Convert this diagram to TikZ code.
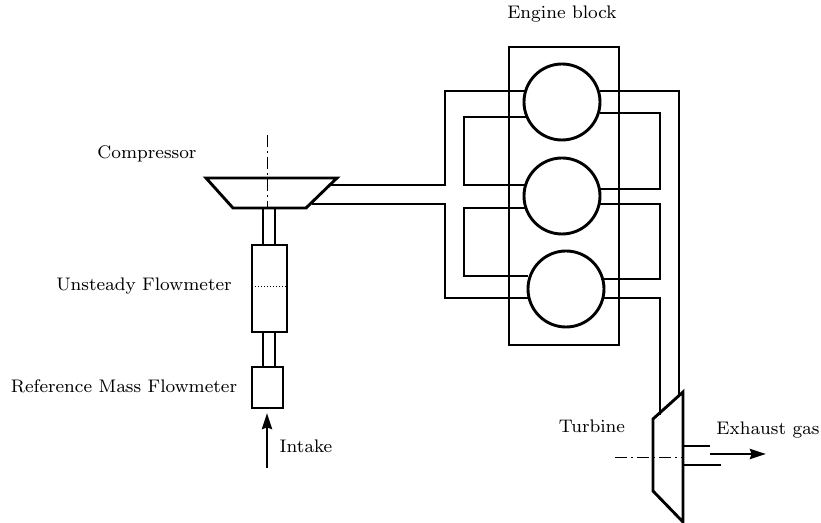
\documentclass[tikz,border=0pt]{standalone}
\usepackage{tikz}
\usetikzlibrary{arrows.meta}
\font\lblfont=cmr8 at 9.1pt
\tikzset{
    pipe/.style={line width=1.45pt, line join=miter},
    axisline/.style={line width=0.45pt, dash pattern=on 6pt off 2pt on 1pt off 2pt},
    lbl/.style={font=\lblfont, inner sep=0pt}
}

\begin{document}
\begin{tikzpicture}[>={Stealth[length=8pt,width=5pt,inset=0.8pt]}, x=0.5pt, y=-0.5pt]
\useasboundingbox (0, 0) rectangle (821, 523);

% === Intake line ===
\draw[axisline] (267, 135) -- (267, 208);
\draw[pipe] (206, 178) -- (337, 178) -- (306, 208) -- (233, 208) -- cycle;
\draw[pipe] (263, 208) -- (263, 245);
\draw[pipe] (275, 208) -- (275, 245);
\draw[pipe] (252, 245) rectangle (287, 332);
\draw[densely dotted, line width=0.5pt] (252, 287) -- (287, 287);
\draw[pipe] (263, 332) -- (263, 367);
\draw[pipe] (275, 332) -- (275, 367);
\draw[pipe] (252, 367) rectangle (283, 408);
\draw[->, pipe] (267, 468) -- (267, 413);

% === Engine block ===
\draw[pipe] (509, 47) rectangle (619, 345);
\draw[pipe] (562, 102) circle (38);
\draw[pipe] (562, 196) circle (38);
\draw[pipe] (566, 289) circle (38);

% Left side pipes
\draw[pipe] (330, 185) -- (445, 185) -- (445, 91) -- (526, 91);
\draw[pipe] (312, 204) -- (445, 204) -- (445, 298) -- (528, 298);
\draw[pipe] (527, 117) -- (464, 117) -- (464, 185) -- (527, 185);
\draw[pipe] (527, 208) -- (464, 208) -- (464, 276) -- (528, 276);

% Right side pipes
\draw[pipe] (600, 113) -- (660, 113) -- (660, 189) -- (600, 189);
\draw[pipe] (600, 204) -- (660, 204) -- (660, 279) -- (601, 279);
\draw[pipe] (600, 91) -- (679, 91) -- (679, 397);
\draw[pipe] (604, 298) -- (660, 298) -- (660, 415);

% === Turbine ===
\draw[pipe] (653, 419) -- (683, 392) -- (683, 522) -- (653, 491) -- cycle;
\draw[axisline] (615, 457) -- (683, 457);
\draw[pipe] (683, 446) -- (710, 446);
\draw[pipe] (683, 465) -- (721, 465);
\draw[->, pipe] (710, 454) -- (766, 454);

% === Labels ===
\node[lbl] (engine) at (562, 14) {Engine block};
\node[lbl] (compressor) at (147, 154) {Compressor};
\node[lbl] (unsteady) at (144, 286) {Unsteady Flowmeter};
\node[lbl] (reference) at (124, 386) {Reference Mass Flowmeter};
\node[lbl] (intake) at (306, 446) {Intake};
\node[lbl] (turbine) at (592, 426) {Turbine};
\node[lbl] (exhaust) at (768, 430) {Exhaust gas};

\end{tikzpicture}
\end{document}
